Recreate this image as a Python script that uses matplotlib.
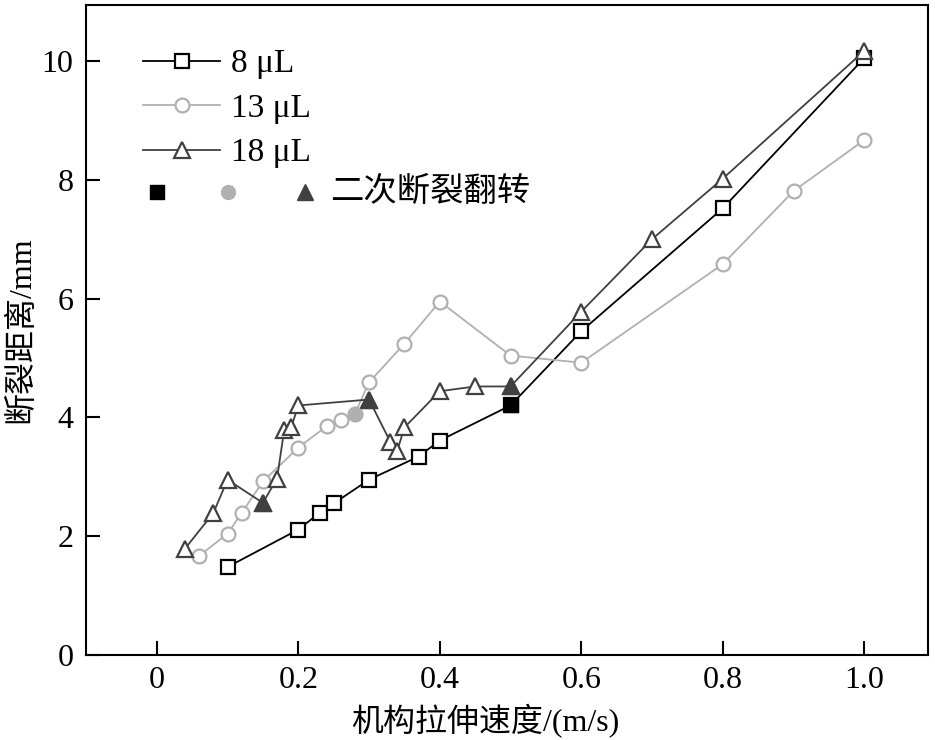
import matplotlib
matplotlib.use("Agg")
import matplotlib.pyplot as plt

plt.rcParams['font.family'] = ['Liberation Serif', 'Noto Sans CJK SC']

# 8 μL
x8 = [0.10, 0.20, 0.23, 0.25, 0.30, 0.37, 0.40, 0.50, 0.60, 0.80, 1.00]
y8 = [1.48, 2.11, 2.39, 2.55, 2.95, 3.34, 3.61, 4.20, 5.45, 7.52, 10.05]
# 13 μL
x13 = [0.06, 0.10, 0.12, 0.15, 0.20, 0.24, 0.26, 0.28, 0.30, 0.35, 0.40, 0.50, 0.60, 0.80, 0.90, 1.00]
y13 = [1.67, 2.04, 2.39, 2.92, 3.49, 3.85, 3.96, 4.06, 4.59, 5.24, 5.95, 5.04, 4.92, 6.58, 7.81, 8.67]
# 18 μL
x18 = [0.04, 0.08, 0.10, 0.15, 0.17, 0.18, 0.19, 0.20, 0.30, 0.33, 0.34, 0.35, 0.40, 0.45, 0.50, 0.60, 0.70, 0.80, 1.00]
y18 = [1.79, 2.39, 2.95, 2.56, 2.97, 3.78, 3.83, 4.20, 4.30, 3.59, 3.44, 3.83, 4.44, 4.52, 4.52, 5.78, 7.00, 8.02, 10.17]

# 二次断裂翻转 points
flip8 = (0.50, 4.20)
flip13 = (0.28, 4.06)
flip18 = [(0.15, 2.56), (0.30, 4.30), (0.50, 4.52)]

labels = ["8 μL", "13 μL", "18 μL"]
colors = ["#000000", "#b0b0b0", "#404040"]

fig = plt.figure(figsize=(9.35, 7.4), dpi=100)
ax = fig.add_axes([0.092, 0.115, 0.9005, 0.878])

ms = 10
lw = 1.3
ax.plot(x8, y8, color=colors[0], lw=lw, marker="s", ms=ms, mfc="white", mec=colors[0], mew=1.6, label=labels[0])
ax.plot(x13, y13, color=colors[1], lw=lw, marker="o", ms=ms, mfc="white", mec=colors[1], mew=1.6, label=labels[1])
ax.plot(x18, y18, color=colors[2], lw=lw, marker="^", ms=ms + 1, mfc="white", mec=colors[2], mew=1.6, label=labels[2])

ax.plot([flip8[0]], [flip8[1]], ls="none", marker="s", ms=ms, color=colors[0], zorder=5)
ax.plot([flip13[0]], [flip13[1]], ls="none", marker="o", ms=ms, color=colors[1], zorder=5)
ax.plot([p[0] for p in flip18], [p[1] for p in flip18], ls="none", marker="^", ms=ms + 1, color=colors[2], zorder=5)

ax.set_xlim(-0.1, 1.09)
ax.set_ylim(0, 10.94)
ax.set_xticks([0, 0.2, 0.4, 0.6, 0.8, 1.0])
ax.set_xticklabels(["0", "0.2", "0.4", "0.6", "0.8", "1.0"])
ax.set_yticks([0, 2, 4, 6, 8, 10])
ax.tick_params(direction="in", length=10, width=1.5, labelsize=23, pad=8)
ax.tick_params(axis="y", pad=9)
for s in ax.spines.values():
    s.set_linewidth(1.5)

ax.set_xlabel("机构拉伸速度/(m/s)", fontsize=23, labelpad=2)
ax.xaxis.set_label_coords(0.474, -0.075)
ax.set_ylabel("断裂距离/mm", fontsize=23, labelpad=4)

leg = ax.legend(loc="upper left", bbox_to_anchor=(0.068, 0.933), frameon=False,
                fontsize=24, handlelength=2.3, handletextpad=0.33,
                labelspacing=0.42, borderpad=0, borderaxespad=0)

# 第四行图例：二次断裂翻转
row_y = 0.712
ax.plot([0.084], [row_y], transform=ax.transAxes, marker="s", ms=ms, color=colors[0], ls="none", clip_on=False)
ax.plot([0.169], [row_y], transform=ax.transAxes, marker="o", ms=ms, color=colors[1], ls="none", clip_on=False)
ax.plot([0.26], [row_y], transform=ax.transAxes, marker="^", ms=ms + 1, color=colors[2], ls="none", clip_on=False)
ax.text(0.29, row_y, "二次断裂翻转", transform=ax.transAxes, fontsize=24, va="center", ha="left")

fig.savefig("out.png", dpi=100)
